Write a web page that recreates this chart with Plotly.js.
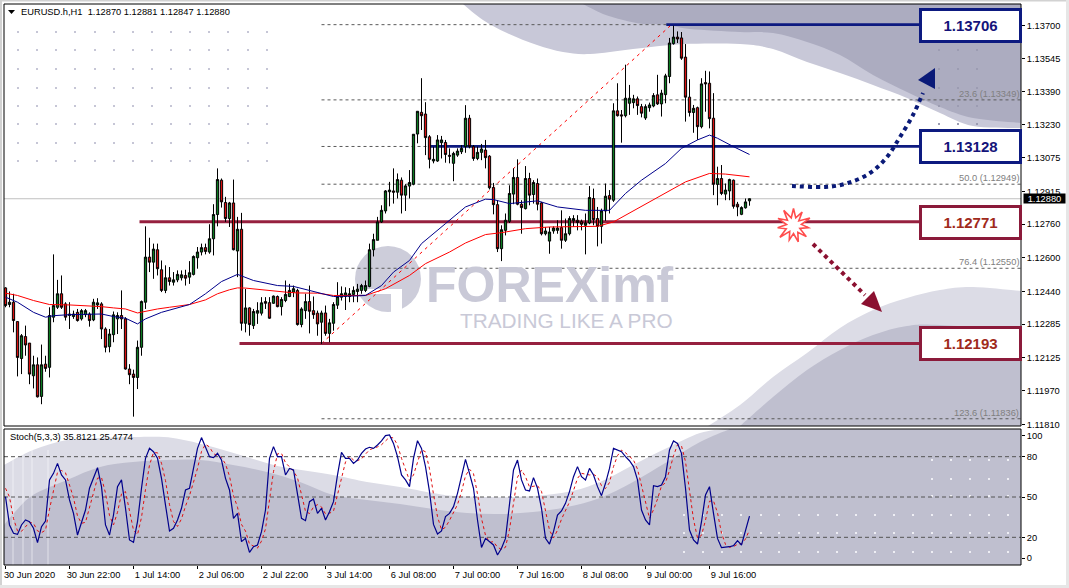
<!DOCTYPE html>
<html><head><meta charset="utf-8">
<script src="https://cdn.plot.ly/plotly-3.0.1.min.js"></script>
<style>html,body{margin:0;padding:0;background:#fff}#c{width:1069px;height:588px}</style>
</head><body><div id="c"></div>
<script>
const tickIndex=[0,16,32,48,64,80,96,112,128,144,160,176];
const tickLabels=["30 Jun 2020","30 Jun 22:00","1 Jul 14:00","2 Jul 06:00","2 Jul 22:00","3 Jul 14:00","6 Jul 08:00","7 Jul 00:00","7 Jul 16:00","8 Jul 08:00","9 Jul 00:00","9 Jul 16:00"];
const priceTicks=[1.13700,1.13545,1.13390,1.13230,1.13075,1.12915,1.12760,1.12600,1.12440,1.12285,1.12125,1.11970,1.11810];
const lastPrice=1.12880;
const fibPrices=[1.13706,1.13349,1.13128,1.12949,1.12771,1.12550,1.11836];
const fibLabels=[["23.6 (1.13349)",1.13349],["50.0 (1.12949)",1.12949],["76.4 (1.12550)",1.12550],["123.6 (1.11836)",1.11836]];
const levelsBlue=[1.13706,1.13128];
const levelsRed=[1.12771,1.12193];
const stochLevels=[80,50,20];
const openP=[1.12457,1.12378,1.12389,1.12297,1.12122,1.12226,1.12195,1.12040,1.12092,1.11942,
1.12095,1.12080,1.12318,1.12365,1.12429,1.12381,1.12326,1.12321,1.12341,1.12310,
1.12330,1.12333,1.12305,1.12376,1.12381,1.12262,1.12178,1.12235,1.12310,1.12326,
1.12310,1.12072,1.12048,1.12032,1.12175,1.12389,1.12603,1.12579,1.12638,1.12543,
1.12445,1.12505,1.12484,1.12495,1.12505,1.12516,1.12508,1.12521,1.12600,1.12627,
1.12648,1.12627,1.12690,1.12805,1.12968,1.12862,1.12786,1.12860,1.12632,1.12735,
1.12289,1.12362,1.12278,1.12337,1.12337,1.12392,1.12387,1.12384,1.12416,1.12368,
1.12397,1.12416,1.12437,1.12445,1.12283,1.12349,1.12392,1.12349,1.12337,1.12294,
1.12338,1.12241,1.12289,1.12375,1.12413,1.12416,1.12416,1.12426,1.12440,1.12445,
1.12445,1.12464,1.12638,1.12683,1.12770,1.12822,1.12913,1.12917,1.12911,1.12968,
1.12897,1.12940,1.12949,1.13187,1.13290,1.13282,1.13174,1.13059,1.13059,1.13146,
1.13147,1.13086,1.13048,1.13087,1.13103,1.13127,1.13262,1.13127,1.13071,1.13100,
1.13111,1.13082,1.12933,1.12852,1.12643,1.12730,1.12773,1.12902,1.12981,1.12854,
1.12833,1.12976,1.12900,1.12952,1.12860,1.12714,1.12679,1.12727,1.12730,1.12743,
1.12683,1.12714,1.12775,1.12778,1.12771,1.12754,1.12765,1.12881,1.12786,1.12749,
1.12822,1.12895,1.12873,1.13297,1.13278,1.13274,1.13333,1.13336,1.13354,1.13317,
1.13263,1.13312,1.13320,1.13373,1.13330,1.13374,1.13460,1.13616,1.13647,1.13643,
1.13552,1.13362,1.13289,1.13312,1.13222,1.13431,1.13428,1.13262,1.12948,1.12976,
1.12902,1.12917,1.12968,1.12854,1.12806,1.12837,1.12870];
const highP=[1.12460,1.12440,1.12429,1.12297,1.12238,1.12278,1.12195,1.12135,1.12127,1.12188,
1.12135,1.12365,1.12616,1.12495,1.12516,1.12389,1.12389,1.12349,1.12357,1.12357,
1.12357,1.12341,1.12405,1.12408,1.12389,1.12270,1.12262,1.12345,1.12341,1.12445,
1.12318,1.12095,1.12069,1.12207,1.12397,1.12749,1.12695,1.12667,1.12667,1.12587,
1.12564,1.12556,1.12532,1.12540,1.12540,1.12543,1.12584,1.12611,1.12651,1.12667,
1.12667,1.12759,1.12854,1.13024,1.12976,1.12889,1.12865,1.12971,1.12794,1.12813,
1.12452,1.12365,1.12357,1.12389,1.12413,1.12413,1.12413,1.12421,1.12421,1.12413,
1.12492,1.12476,1.12468,1.12453,1.12365,1.12429,1.12468,1.12416,1.12349,1.12349,
1.12373,1.12310,1.12389,1.12484,1.12464,1.12460,1.12456,1.12464,1.12476,1.12476,
1.12492,1.12667,1.12714,1.12794,1.12849,1.12921,1.12960,1.13024,1.13000,1.12981,
1.12949,1.13016,1.13186,1.13295,1.13452,1.13338,1.13182,1.13127,1.13182,1.13178,
1.13159,1.13119,1.13103,1.13119,1.13135,1.13324,1.13278,1.13135,1.13127,1.13140,
1.13159,1.13087,1.12955,1.12873,1.12754,1.12810,1.12944,1.13024,1.13067,1.12873,
1.13035,1.13003,1.12968,1.12976,1.12865,1.12746,1.12746,1.12749,1.12778,1.12825,
1.12786,1.12797,1.12802,1.12802,1.12781,1.12810,1.12940,1.12928,1.12841,1.12833,
1.12952,1.12921,1.13333,1.13428,1.13301,1.13516,1.13420,1.13373,1.13365,1.13330,
1.13328,1.13336,1.13381,1.13468,1.13397,1.13473,1.13643,1.13701,1.13674,1.13671,
1.13614,1.13447,1.13325,1.13317,1.13452,1.13487,1.13484,1.13381,1.13032,1.13040,
1.12952,1.12975,1.12971,1.12865,1.12844,1.12881,1.12881];
const lowP=[1.12365,1.12365,1.12246,1.12037,1.12048,1.12135,1.12000,1.11980,1.11937,1.11905,
1.12059,1.12032,1.12294,1.12357,1.12357,1.12302,1.12262,1.12310,1.12297,1.12302,
1.12318,1.12273,1.12299,1.12357,1.12214,1.12151,1.12151,1.12199,1.12238,1.12262,
1.12069,1.12000,1.11846,1.11977,1.12135,1.12357,1.12532,1.12500,1.12516,1.12437,
1.12432,1.12468,1.12468,1.12484,1.12492,1.12468,1.12476,1.12516,1.12548,1.12611,
1.12616,1.12619,1.12611,1.12749,1.12838,1.12770,1.12746,1.12635,1.12508,1.12254,
1.12246,1.12230,1.12262,1.12286,1.12326,1.12357,1.12310,1.12381,1.12365,1.12326,
1.12389,1.12413,1.12413,1.12278,1.12270,1.12310,1.12241,1.12310,1.12230,1.12191,
1.12230,1.12199,1.12254,1.12357,1.12397,1.12352,1.12389,1.12389,1.12389,1.12429,
1.12437,1.12460,1.12606,1.12683,1.12765,1.12810,1.12844,1.12857,1.12881,1.12810,
1.12822,1.12881,1.12944,1.13143,1.13206,1.13087,1.13024,1.13048,1.13055,1.13071,
1.13051,1.13048,1.12963,1.13079,1.13092,1.13098,1.13119,1.13060,1.13063,1.13063,
1.13024,1.12924,1.12806,1.12627,1.12584,1.12706,1.12765,1.12854,1.12849,1.12714,
1.12829,1.12849,1.12857,1.12825,1.12706,1.12706,1.12619,1.12714,1.12714,1.12643,
1.12675,1.12706,1.12746,1.12730,1.12730,1.12616,1.12759,1.12754,1.12654,1.12667,
1.12775,1.12810,1.12865,1.13270,1.13146,1.13266,1.13278,1.13309,1.13278,1.13266,
1.13254,1.13293,1.13314,1.13325,1.13270,1.13333,1.13428,1.13611,1.13619,1.13539,
1.13246,1.13270,1.13193,1.13159,1.13214,1.13293,1.13214,1.12897,1.12849,1.12897,
1.12873,1.12873,1.12833,1.12797,1.12802,1.12833,1.12847];
const closeP=[1.12373,1.12389,1.12302,1.12127,1.12230,1.12186,1.12048,1.12092,1.11940,1.12092,
1.12075,1.12326,1.12373,1.12429,1.12365,1.12318,1.12333,1.12333,1.12302,1.12349,
1.12349,1.12302,1.12389,1.12386,1.12262,1.12175,1.12238,1.12329,1.12326,1.12310,
1.12072,1.12045,1.12032,1.12175,1.12392,1.12603,1.12579,1.12641,1.12548,1.12445,
1.12505,1.12487,1.12495,1.12521,1.12519,1.12503,1.12529,1.12606,1.12627,1.12648,
1.12630,1.12690,1.12805,1.12971,1.12865,1.12786,1.12860,1.12638,1.12735,1.12289,
1.12362,1.12283,1.12345,1.12349,1.12386,1.12384,1.12313,1.12418,1.12368,1.12402,
1.12426,1.12445,1.12453,1.12283,1.12357,1.12392,1.12346,1.12330,1.12286,1.12338,
1.12241,1.12291,1.12378,1.12416,1.12429,1.12433,1.12429,1.12445,1.12451,1.12468,
1.12468,1.12638,1.12686,1.12770,1.12825,1.12917,1.12921,1.12911,1.12971,1.12897,
1.12941,1.12957,1.13186,1.13295,1.13274,1.13170,1.13067,1.13067,1.13159,1.13159,
1.13090,1.13082,1.13095,1.13106,1.13119,1.13262,1.13127,1.13071,1.13100,1.13116,
1.13075,1.12932,1.12852,1.12643,1.12733,1.12778,1.12905,1.12981,1.12854,1.12838,
1.12976,1.12897,1.12957,1.12854,1.12714,1.12727,1.12722,1.12741,1.12741,1.12683,
1.12714,1.12786,1.12786,1.12767,1.12759,1.12765,1.12886,1.12781,1.12749,1.12822,
1.12892,1.12878,1.13297,1.13274,1.13273,1.13357,1.13357,1.13354,1.13322,1.13286,
1.13317,1.13325,1.13370,1.13330,1.13381,1.13463,1.13619,1.13647,1.13638,1.13547,
1.13362,1.13289,1.13309,1.13222,1.13425,1.13425,1.13260,1.12949,1.12976,1.12905,
1.12921,1.12971,1.12844,1.12841,1.12838,1.12865,1.12880];
const maRedIdx=[0,3,7,10,11,16,20,24,27,30,33,35,38,41,46,50,53,56,58,60,65,70,73,78,82,88,90,95,101,105,111,115,120,124,130,136,148,152,158,165,170,176,180,186];
const maRedVal=[1.12432,1.12421,1.12397,1.12384,1.12378,1.12376,1.12373,1.12368,1.12362,1.12357,1.12338,1.12346,1.12357,1.12365,1.12378,1.12400,1.12429,1.12448,1.12457,1.12456,1.12445,1.12437,1.12433,1.12432,1.12421,1.12421,1.12421,1.12453,1.12516,1.12572,1.12627,1.12670,1.12710,1.12719,1.12738,1.12746,1.12749,1.12770,1.12833,1.12905,1.12960,1.13000,1.12997,1.12984];
const maBlueIdx=[0,3,7,10,12,16,24,27,30,33,35,39,46,50,54,58,62,68,72,78,82,88,90,94,97,101,104,110,115,120,122,126,133,138,145,151,155,159,165,169,173,176,178,182,186];
const maBlueVal=[1.12413,1.12389,1.12341,1.12318,1.12325,1.12330,1.12333,1.12321,1.12313,1.12286,1.12310,1.12341,1.12378,1.12429,1.12487,1.12521,1.12492,1.12468,1.12464,1.12433,1.12416,1.12419,1.12421,1.12468,1.12532,1.12587,1.12667,1.12762,1.12841,1.12878,1.12876,1.12857,1.12870,1.12841,1.12825,1.12825,1.12905,1.12968,1.13047,1.13119,1.13159,1.13182,1.13167,1.13127,1.13090];
const stochMain=[50.3,29.2,23,22.2,29.2,32.9,31.6,26.7,16,27.9,32.1,62.7,67.6,75,66.4,62.7,47.8,37.8,21.7,31.6,
40.3,56.5,63.9,71.8,57.7,29.2,21.7,36.6,57.7,62.7,41.6,18,16.3,31.6,56.5,78.8,86.2,83.7,78.8,63.9,
44,24.7,26.7,32.9,41.6,55.2,56.5,71.3,86.2,94.2,87.5,80,79.3,82.5,77.5,63.9,55.2,34.1,37.8,16.8,
19.2,8.8,13,14.3,24.2,40.3,78.8,87.5,80,80,66.4,71.3,70.1,51.5,34.1,32.4,46.5,48.5,37.8,41.6,
32.9,39.1,46.5,66.4,83.2,78.8,78.8,75,77.5,82.5,85.7,87,86.2,88.7,91.7,95.7,96.2,89.9,80,
66.4,62.7,57.7,78.8,91.9,86.2,72.6,54,29.6,22.5,24.7,35.4,37.8,42.8,52.7,66.4,78,67.6,56.5,32.9,
12.5,19.2,16.8,14.3,6.8,11.8,19.2,46.5,70.1,77.5,62.7,55.2,54.5,64.4,56.5,41.6,19.2,15,24.2,36.6,
39.6,45.3,54,65.1,72.6,65.1,62.7,71.3,66.4,57.7,51,60.2,71.3,86.2,85,83.7,80,77,72.6,62.7,
40.3,32.9,29.2,58.4,57.7,58.9,65.1,85,91.7,89.9,82.5,56.5,25.4,18,15,31.6,51.5,57.7,37.8,19.2,
12.3,12.5,13,13.8,17.5,14.3,24.2,35.8];
const stochSignal=[56.5,50,34,24.8,24.5,28.1,31.2,30.4,24.8,23.5,25.3,40.9,54.1,68.4,69.7,68,58.9,49.4,35.9,30.4,
31.2,42.8,53.6,64,64.5,52.9,36.2,29.2,38.7,52.3,54,40.8,25.3,22,34.8,55.6,73.8,83,82.9,75.1,
62.2,44.2,31.8,28.1,33.7,43.2,51.1,61,71.3,83.9,89.3,87.2,82.3,80.6,79.3,74.6,65.5,51.1,42.4,29.6,
24.6,15,13.7,12,17.2,26.3,47.8,68.9,82.1,82.5,75.5,72.6,69.3,64.3,51.9,39.3,37.7,42.5,44.3,42.6,
37.4,37.9,39.5,52,65.4,76.1,80.3,77.5,77.1,78.3,81.9,85.1,86.3,87.3,88.9,92,94.5,93.9,88.7,78.8,
69.7,62.3,66.4,76.1,85.2,83.6,71,52,35.4,25.6,27.5,32.6,38.7,44.4,53.9,65.7,70.7,67.4,52.3,34,
21.5,16.2,16.8,12.6,11,12.6,25.8,45.3,64.7,70.1,65.1,57.5,58.1,58.5,54.2,39,25.3,19.5,25.3,33.5,
40.5,46.3,54.8,63.9,67.6,66.8,66.4,66.8,65.1,58.4,56.3,60.8,72.6,80.8,84.9,82.9,80.2,77.5,70.8,58.5,
45.3,34.1,40.5,48.4,58.3,60.6,69.7,80.6,88.9,88,76.3,54.6,33.3,19.5,21.5,32.7,46.9,47,38.3,23.1,
14.7,12.6,13.1,14.8,15.2,18.7,25.5];

const idx=openP.map((_,i)=>i);
const X=p=>(p-4)/1017, Y=p=>(565-p)/561;
const P=(x,y)=>X(x)+' '+Y(y);
function poly(pts){return 'M'+pts.map(p=>P(p[0],p[1])).join(' L')+' Z';}
function smooth(pts,close){let d='M'+P(pts[0][0],pts[0][1]);
 for(let i=0;i<pts.length-1;i++){const a=pts[Math.max(i-1,0)],b=pts[i],c=pts[i+1],e=pts[Math.min(i+2,pts.length-1)];
  d+=' C'+P(b[0]+(c[0]-a[0])/6,b[1]+(c[1]-a[1])/6)+' '+P(c[0]-(e[0]-b[0])/6,c[1]-(e[1]-b[1])/6)+' '+P(c[0],c[1]);}
 if(close)close.forEach(p=>d+=' L'+P(p[0],p[1]));
 return d+(close?' Z':'');}
function dots(xs,ys,s){let d='';xs.forEach(x=>ys.forEach(y=>{d+='M'+P(x,y)+' L'+P(x+s,y)+' L'+P(x+s,y+s)+' L'+P(x,y+s)+' Z ';}));return d;}
const fillS=(path,c,layer)=>({type:'path',xref:'paper',yref:'paper',path,fillcolor:c,line:{width:0},layer:layer||'below'});

const shapes=[];
// background artwork
shapes.push(fillS(smooth([[463,4],[483,20],[507,33],[537,45],[563,52],[590,54],[633,49],[683,44],[740,44],[773,49],[807,62],[840,73],[873,85],[907,98],[940,113],[973,126],[1021,128]],[[1021,4]]),'#c8c8d8'));
shapes.push(fillS(smooth([[583,4],[603,14],[623,20],[643,24],[667,25],[690,29],[740,32],[773,33],[807,42],[840,55],[873,75],[907,92],[940,107],[973,118],[1021,123]],[[1021,4]]),'#acacc0'));
shapes.push(fillS(smooth([[708,426],[740,405],[773,377],[807,353],[840,328],[873,310],[907,298],[940,290],[973,287],[1021,291]],[[1021,426]]),'#dcdce6'));
shapes.push(fillS(smooth([[740,426],[773,397],[807,370],[840,350],[873,335],[907,326],[940,325],[1021,331]],[[1021,426]]),'#bfbfcf'));
shapes.push(fillS(smooth([[4,465],[33,450],[67,440],[100,438],[140,437],[173,438],[213,447],[250,458],[283,467],[333,475],[367,482],[400,487],[433,493],[457,496],[517,497],[567,492],[600,482],[633,465],[667,448],[700,433],[725,429]],[[1021,429],[1021,565],[4,565]]),'#dcdce6'));
shapes.push(fillS(smooth([[4,525],[15,512],[33,495],[67,480],[100,467],[133,462],[167,460],[200,460],[233,465],[267,472],[300,482],[333,495],[367,500],[400,504],[433,509],[467,513],[500,514],[533,512],[567,507],[600,498],[633,482],[667,462],[700,442],[730,429]],[[1021,429],[1021,565],[4,565]]),'#bfbfcf'));
[13,23,32,48].forEach(x=>shapes.push({type:'line',xref:'paper',yref:'paper',x0:X(x),x1:X(x),y0:Y(450),y1:Y(565),line:{color:'rgba(255,255,255,0.55)',width:1},layer:'below'}));
// dot grids
shapes.push(fillS(dots([17,36,55,74,94,113,132,151,170,189,208,227,247,266],[31,49,68,87,105,123,142,160],2),'#c6c6d6'));
shapes.push(fillS(dots([938,957,976],[49,68,87,105,123],2),'#9c9cb2'));
shapes.push(fillS(dots([683,702,721,740,760,778,798,817,836,855,874,893,912,931,950,969,988,1007],[514,532,551],2),'#eeeef4'));
shapes.push(fillS(dots([931,950,969,988,1007],[459,478,495],2),'#eeeef4'));
// watermark logo
shapes.push({type:'circle',xref:'paper',yref:'paper',x0:X(355),x1:X(421),y0:Y(246),y1:Y(312),fillcolor:'#cdcdda',line:{width:0},layer:'below'});
shapes.push(fillS(poly([[354,289],[391,289],[391,294],[354,294]]),'#ffffff'));
shapes.push(fillS(poly([[391,289],[402,289],[402,313],[391,313]]),'#ffffff'));
// price line
shapes.push({type:'line',xref:'x',yref:'y',x0:-0.375,x1:254,y0:lastPrice,y1:lastPrice,line:{color:'#c0c0c0',width:1},layer:'below'});
// fibonacci
fibPrices.forEach(p=>shapes.push({type:'line',xref:'x',yref:'y',x0:79,x1:254,y0:p,y1:p,line:{color:'#5a5a5a',width:1,dash:'3px,3px'},layer:'below'}));
shapes.push({type:'line',xref:'x',yref:'y',x0:79,x1:166.5,y0:1.12193,y1:1.13706,line:{color:'#ff0000',width:1,dash:'3px,4px'},layer:'below'});
// stochastic levels
stochLevels.forEach(v=>shapes.push({type:'line',xref:'x',yref:'y2',x0:-0.375,x1:254,y0:v,y1:v,line:{color:'#555',width:1,dash:'4px,3px'},layer:'below'}));
// levels
[[levelsBlue[0],165.2],[levelsBlue[1],105.7]].forEach(a=>shapes.push({type:'line',xref:'x',yref:'y',x0:a[1],x1:229,y0:a[0],y1:a[0],line:{color:'#0d1a80',width:2.8},layer:'below'}));
[[levelsRed[0],33.5],[levelsRed[1],58.5]].forEach(a=>shapes.push({type:'line',xref:'x',yref:'y',x0:a[1],x1:229,y0:a[0],y1:a[0],line:{color:'#96203f',width:3},layer:'below'}));
// forecast arrows
shapes.push({type:'path',xref:'paper',yref:'paper',path:smooth([[792,186],[825,187],[848,183],[870,173],[887,157],[900,137],[913,115],[923,93]]),line:{color:'#0a1a78',width:4,dash:'4px,4px'},layer:'above'});
shapes.push(fillS(poly([[935,68],[918,80],[935,89]]),'#0a1a78','above'));
shapes.push({type:'line',xref:'paper',yref:'paper',x0:X(813),y0:Y(244),x1:X(865),y1:Y(295),line:{color:'#8b1030',width:4,dash:'4px,4px'},layer:'above'});
shapes.push(fillS(poly([[882,312],[861,304],[874,291]]),'#8b1030','above'));
const starR=[17,8,16,7,18,8,15,7,17,8,17,8,15,7,18,8,16,7,17,8,18,8];
const star=starR.map((r,i)=>{const a=2*Math.PI*i/starR.length-Math.PI/2;return [793.5+r*Math.cos(a),225.5+r*Math.sin(a)];});
shapes.push({type:'path',xref:'paper',yref:'paper',path:poly(star),fillcolor:'#ffffff',line:{color:'#ff4d4d',width:1.6},layer:'above'});
// chart header triangle
shapes.push(fillS(poly([[8,10],[15,10],[11.5,14]]),'#000','above'));
// frames
[[4,426],[429,565]].forEach(r=>shapes.push({type:'rect',xref:'paper',yref:'paper',x0:X(4),x1:X(1021),y0:Y(r[0]),y1:Y(r[1]),line:{color:'#000',width:1},layer:'above'}));
// window chrome
shapes.push(fillS(poly([[0,0],[2,0],[2,588],[0,588]]),'#d2d2d2','above'));
shapes.push(fillS(poly([[0,0],[1069,0],[1069,1.5],[0,1.5]]),'#d2d2d2','above'));
shapes.push(fillS(poly([[1066,0],[1069,0],[1069,588],[1066,588]]),'#e6e6e6','above'));
shapes.push(fillS(poly([[0,585],[1069,585],[1069,588],[0,588]]),'#e6e6e6','above'));

const annotations=[];
const FS=9.3;
const ann=(t,x,y,o)=>annotations.push(Object.assign({text:t,xref:'paper',yref:'paper',x:X(x),y:Y(y),xanchor:'left',yanchor:'middle',showarrow:false,font:{family:'Liberation Sans',size:FS,color:'#000'}},o||{}));
ann('EURUSD.h,H1\u00A0\u00A01.12870 1.12881 1.12847 1.12880',19,12);
ann('Stoch(5,3,3) 35.8121 25.4774',8,437);
fibLabels.forEach(f=>{annotations.push({text:f[0],xref:'paper',yref:'y',x:X(1021),y:f[1],yshift:6,xanchor:'right',yanchor:'middle',showarrow:false,font:{family:'Liberation Sans',size:FS,color:'#808080'}});});
ann('FOREXimf',424,285,{font:{family:'Liberation Sans',size:50,color:'#c9c9d7',weight:700}});
ann('TRADING LIKE A PRO',458,320,{font:{family:'Liberation Sans',size:20.8,color:'#c9c9d7'}});
const box=(p,yc,col,tc)=>annotations.push({text:'<b>'+p.toFixed(5)+'</b>',xref:'paper',yref:'paper',x:X(970),y:Y(yc),xanchor:'center',yanchor:'middle',showarrow:false,width:97,height:29,bgcolor:'#fff',bordercolor:col,borderwidth:3,borderpad:0,font:{family:'Liberation Sans',size:15,color:tc}});
box(levelsBlue[0],25.5,'#0d1a80','#14147a');
box(levelsBlue[1],146,'#0d1a80','#14147a');
box(levelsRed[0],222.5,'#8b1a3a','#a02a1c');
box(levelsRed[1],343,'#8b1a3a','#a02a1c');
annotations.push({text:lastPrice.toFixed(5),xref:'paper',yref:'y',x:X(1023),y:lastPrice,xanchor:'left',yanchor:'middle',showarrow:false,width:41,height:9,bgcolor:'#000',borderpad:0,font:{family:'Liberation Sans',size:FS,color:'#fff'}});

const traces=[
 {type:'scatter',mode:'lines',x:maRedIdx,y:maRedVal,xaxis:'x',yaxis:'y',line:{color:'#ff0000',width:1},hoverinfo:'skip'},
 {type:'scatter',mode:'lines',x:maBlueIdx,y:maBlueVal,xaxis:'x',yaxis:'y',line:{color:'#00008b',width:1},hoverinfo:'skip'},
 {type:'candlestick',x:idx,open:openP,high:highP,low:lowP,close:closeP,xaxis:'x',yaxis:'y',whiskerwidth:0,
  increasing:{line:{color:'#000',width:1},fillcolor:'#0b7a20'},decreasing:{line:{color:'#000',width:1},fillcolor:'#d81010'},hoverinfo:'skip'},
 {type:'scatter',mode:'lines',x:idx,y:stochSignal,xaxis:'x',yaxis:'y2',line:{color:'#e01010',width:1,dash:'3px,3px'},hoverinfo:'skip'},
 {type:'scatter',mode:'lines',x:idx,y:stochMain,xaxis:'x',yaxis:'y2',line:{color:'#00008b',width:1.2},hoverinfo:'skip'}
];
const tf={family:'Liberation Sans',size:FS,color:'#000'};
const layout={width:1069,height:588,margin:{l:4,r:48,t:4,b:23},paper_bgcolor:'#fff',plot_bgcolor:'rgba(0,0,0,0)',showlegend:false,hovermode:false,boxgap:0.2,
 xaxis:{domain:[0,1],anchor:'y2',range:[-0.375,253.875],tickmode:'array',tickvals:tickIndex,ticktext:tickLabels,ticks:'outside',ticklen:3,tickcolor:'#000',tickfont:tf,ticklabelshift:24,ticklabelstandoff:-2,showgrid:false,zeroline:false,showline:false,rangeslider:{visible:false},fixedrange:true},
 yaxis:{domain:[139/561,1],anchor:'x',side:'right',range:[1.13823-426*0.00004745,1.13823-4*0.00004745],tickmode:'array',tickvals:priceTicks,ticktext:priceTicks.map(v=>v.toFixed(5)),ticks:'outside',ticklen:3,tickcolor:'#000',tickfont:tf,showgrid:false,zeroline:false,showline:false,fixedrange:true},
 yaxis2:{domain:[0,136/561],anchor:'x',side:'right',range:[-0.6,100.6],tickmode:'array',tickvals:[95.8,80,50,20,4.5],ticktext:['100','80','50','20','0'],ticks:'outside',ticklen:3,tickcolor:'#000',tickfont:tf,showgrid:false,zeroline:false,showline:false,fixedrange:true},
 shapes,annotations};
Plotly.newPlot('c',traces,layout,{displayModeBar:false,staticPlot:true});
</script></body></html>
